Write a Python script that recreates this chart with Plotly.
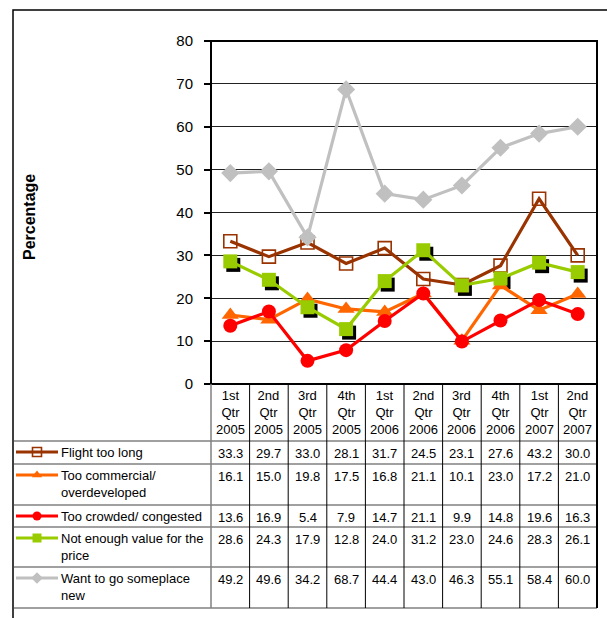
import plotly.graph_objects as go

# ---------------- data ----------------
quarters = ["1st Qtr 2005", "2nd Qtr 2005", "3rd Qtr 2005", "4th Qtr 2005",
            "1st Qtr 2006", "2nd Qtr 2006", "3rd Qtr 2006", "4th Qtr 2006",
            "1st Qtr 2007", "2nd Qtr 2007"]
flight_too_long = [33.3, 29.7, 33.0, 28.1, 31.7, 24.5, 23.1, 27.6, 43.2, 30.0]
too_commercial = [16.1, 15.0, 19.8, 17.5, 16.8, 21.1, 10.1, 23.0, 17.2, 21.0]
too_crowded = [13.6, 16.9, 5.4, 7.9, 14.7, 21.1, 9.9, 14.8, 19.6, 16.3]
not_enough_value = [28.6, 24.3, 17.9, 12.8, 24.0, 31.2, 23.0, 24.6, 28.3, 26.1]
someplace_new = [49.2, 49.6, 34.2, 68.7, 44.4, 43.0, 46.3, 55.1, 58.4, 60.0]

series_names = ["Flight too long", "Too commercial/<br>overdeveloped",
                "Too crowded/ congested", "Not enough value for the<br>price",
                "Want to go someplace<br>new"]
y_ticks = [0, 10, 20, 30, 40, 50, 60, 70, 80]

# ---------------- layout constants (pixels) ----------------
W, H = 607, 618
PL, PR, PT, PB = 211, 597, 41, 384          # plot area
ROWS = [384, 441, 464, 505, 527, 567, 608]  # table row boundaries
FONT = "Arial, Liberation Sans, sans-serif"

def fx(x): return x / W
def fy(y): return 1 - y / H

n = len(quarters)
xi = list(range(n))
ppu_x = (PR - PL) / n
ppu_y = (PB - PT) / 80.0

styles = [
    dict(data=flight_too_long, color="#993300",
         marker=dict(symbol="square-open", size=13, color="#993300", line=dict(width=1.6, color="#993300"))),
    dict(data=too_commercial, color="#FF6600",
         marker=dict(symbol="triangle-up", size=15, color="#FF6600")),
    dict(data=too_crowded, color="#FF0000",
         marker=dict(symbol="circle", size=14, color="#FF0000")),
    dict(data=not_enough_value, color="#99CC00",
         marker=dict(symbol="square", size=14, color="#99CC00")),
    dict(data=someplace_new, color="#C0C0C0",
         marker=dict(symbol="diamond", size=14, color="#C0C0C0")),
]

fig = go.Figure()

# shadow of green squares (base axes, shifted range)
fig.add_trace(go.Scatter(x=xi, y=not_enough_value, mode="markers", xaxis="x", yaxis="y",
                         marker=dict(symbol="square", size=14, color="black"),
                         hoverinfo="skip", showlegend=False))

# main series (overlay axes, exact range)
for st in styles:
    fig.add_trace(go.Scatter(x=xi, y=st["data"], mode="lines+markers", xaxis="x2", yaxis="y2",
                             line=dict(color=st["color"], width=3.2),
                             marker=st["marker"], showlegend=False, cliponaxis=False))

# legend samples on pixel axes
for i, st in enumerate(styles):
    ycen = ROWS[i + 1] + 11
    fig.add_trace(go.Scatter(x=[16, 37, 58], y=[ycen] * 3, mode="lines", xaxis="x3", yaxis="y3",
                             line=dict(color=st["color"], width=3.2), showlegend=False, hoverinfo="skip"))
    m = dict(st["marker"])
    m["size"] = 9
    fig.add_trace(go.Scatter(x=[37], y=[ycen], mode="markers", xaxis="x3", yaxis="y3",
                             marker=m, showlegend=False, hoverinfo="skip"))

shapes = []
# outer frame
shapes.append(dict(type="rect", xref="paper", yref="paper", x0=fx(13), x1=fx(640), y0=fy(640), y1=fy(10),
                   line=dict(color="black", width=1.5), layer="below"))
# plot area box
shapes.append(dict(type="rect", xref="paper", yref="paper", x0=fx(PL), x1=fx(PR), y0=fy(PB), y1=fy(PT),
                   line=dict(color="black", width=2)))
# table horizontal lines
for r in ROWS[1:]:
    shapes.append(dict(type="line", xref="paper", yref="paper", x0=fx(14), x1=fx(PR), y0=fy(r), y1=fy(r),
                       line=dict(color="#808080", width=1.5)))
# table vertical lines
shapes.append(dict(type="line", xref="paper", yref="paper", x0=fx(PL), x1=fx(PL), y0=fy(PB), y1=fy(ROWS[-1]),
                   line=dict(color="#808080", width=1.5)))
for k in range(1, n):
    xx = PL + ppu_x * k
    shapes.append(dict(type="line", xref="paper", yref="paper", x0=fx(xx), x1=fx(xx), y0=fy(PB), y1=fy(ROWS[-1]),
                       line=dict(color="black", width=1)))
shapes.append(dict(type="line", xref="paper", yref="paper", x0=fx(PR), x1=fx(PR), y0=fy(PT), y1=fy(ROWS[-1]),
                   line=dict(color="black", width=2)))

annotations = []
# header labels
for i, q in enumerate(quarters):
    annotations.append(dict(x=i, xref="x2", y=fy(412), yref="paper", text=q.replace(" ", "<br>"),
                            showarrow=False, xanchor="center", yanchor="middle",
                            font=dict(family=FONT, size=13, color="black")))
# table values
for r, st in enumerate(styles):
    for i, v in enumerate(st["data"]):
        annotations.append(dict(x=i, xref="x2", y=fy(ROWS[r + 1] + 3), yref="paper", text=f"{v:.1f}",
                                showarrow=False, xanchor="center", yanchor="top",
                                font=dict(family=FONT, size=13, color="black")))
# legend labels
for r, name in enumerate(series_names):
    annotations.append(dict(x=fx(59), xref="paper", y=fy(ROWS[r + 1] + 2), yref="paper", text=name,
                            showarrow=False, xanchor="left", yanchor="top", align="left",
                            font=dict(family=FONT, size=13, color="black")))
# y-axis title
annotations.append(dict(x=fx(29), xref="paper", y=fy(217), yref="paper", text="<b>Percentage</b>",
                        textangle=-90, showarrow=False, xanchor="center", yanchor="middle",
                        font=dict(family=FONT, size=16, color="black")))

dx = 3 / ppu_x
dy = 3.5 / ppu_y

fig.update_layout(
    template="none",
    width=W, height=H, margin=dict(l=0, r=0, t=0, b=0, pad=0, autoexpand=False),
    paper_bgcolor="white", plot_bgcolor="rgba(0,0,0,0)",
    font=dict(family=FONT, color="black"),
    shapes=shapes, annotations=annotations, showlegend=False,
    xaxis=dict(domain=[fx(PL), fx(PR)], range=[-0.5 - dx, n - 0.5 - dx], visible=False),
    yaxis=dict(domain=[fy(PB), fy(PT)], range=[0 + dy, 80 + dy], visible=False),
    xaxis2=dict(overlaying="x", range=[-0.5, n - 0.5], showgrid=False, showticklabels=False,
                zeroline=False, showline=False, ticks=""),
    yaxis2=dict(overlaying="y", range=[0, 80], tickvals=y_ticks, showgrid=True, gridcolor="#222222",
                gridwidth=1, zeroline=False, showline=False, ticks="outside", ticklen=6,
                tickcolor="black", tickwidth=1.5, ticklabelstandoff=8,
                tickfont=dict(family=FONT, size=15, color="black")),
    xaxis3=dict(domain=[0, 1], range=[0, W], visible=False, fixedrange=True),
    yaxis3=dict(domain=[0, 1], range=[H, 0], visible=False, fixedrange=True),
)

fig.write_html("out.html")
